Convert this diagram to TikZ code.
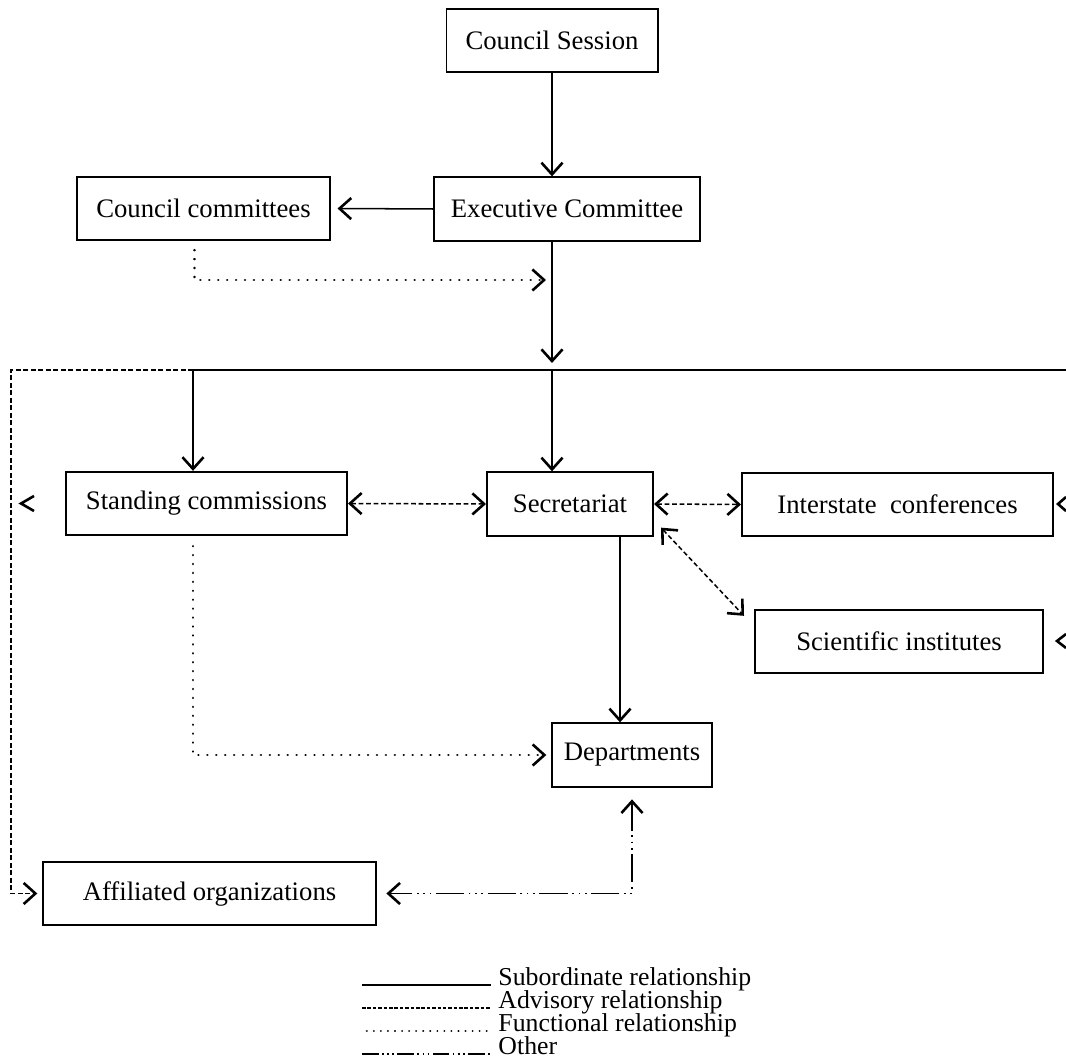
\documentclass[tikz,border=0pt]{standalone}
\usepackage{fontspec}
\setmainfont{Liberation Serif}
\usepackage{tikz}
\usetikzlibrary{arrows.meta,positioning}
\tikzstyle{box} = [rectangle, draw, line width=0.85pt, inner sep=0pt, minimum height=0.95cm, text centered]
\tikzstyle{plain} = [line width=0.65pt]
\tikzstyle{tip} = [-{Straight Barb[length=5pt,width=9pt,line width=1.1pt]}]
\tikzstyle{tips} = [{Straight Barb[length=5pt,width=9pt,line width=1.1pt]}-{Straight Barb[length=5pt,width=9pt,line width=1.1pt]}]
\tikzstyle{sub} = [plain, tip]
\tikzstyle{adv} = [plain, dash pattern=on 2pt off 1.2pt, tip]
\tikzstyle{adv2} = [plain, dash pattern=on 2pt off 1.2pt, tips]
\tikzstyle{func} = [line width=1.1pt, line cap=round, dash pattern=on 0.01pt off 3.8pt, tip]
\tikzstyle{oth} = [plain, dash pattern=on 12pt off 2pt on 0.7pt off 2pt on 0.7pt off 2pt on 0.7pt off 2pt, tips]
\tikzstyle{tipline} = [line width=1.1pt]
\tikzstyle{legtext} = [anchor=base west, inner sep=0pt, font=\fontsize{11}{12}\selectfont]

\begin{document}
\begin{tikzpicture}[x=0.015cm, y=-0.015cm, font=\fontsize{11.4}{13}\selectfont]
\useasboundingbox (0,0) rectangle (1066,1061);

% boxes
\node (session) [box, minimum width=3.165cm] at (552,40.5) {Council Session};
\node (exec) [box, minimum width=3.99cm] at (567,209) {Executive Committee};
\node (ccomm) [box, minimum width=3.795cm] at (203.5,208.5) {Council committees};
\node (stand) [box, minimum width=4.215cm] at (206.5,503.5) {Standing commissions};
\node (secr) [box, minimum width=2.49cm] at (570,504) {Secretariat};
\node (inter) [box, minimum width=4.665cm] at (897.5,504.5) {Interstate\ \ conferences};
\node (sci) [box, minimum width=4.32cm] at (899,641.5) {Scientific institutes};
\node (dept) [box, minimum width=2.4cm] at (632,755) {Departments};
\node (affil) [box, minimum width=4.995cm] at (209.5,893.5) {Affiliated organizations};

% bus
\coordinate (busL) at (193,370);
\coordinate (busM) at (552,370);
\coordinate (busR) at (1066,370);
\coordinate (ccend) at (546,280);
\coordinate (advcorner) at (11,370);
\coordinate (sdx) at (620,0);

\draw[sub] (session.south -| busM) -- (exec.north -| busM);
\draw[sub] (exec.west) -- ([xshift=2.8pt]ccomm.east);
\draw[func] ([shift={(-9,9)}]ccomm.south) |- (ccend);
\draw[sub] (exec.south -| busM) -- ([yshift=3pt]busM);
\draw[plain] (busL) -- (busR);
\draw[sub] (busL) -- (stand.north -| busL);
\draw[sub] (busM) -- (secr.north -| busM);
\draw[adv] (busL) -- (advcorner) |- ([xshift=-2pt]affil.west);

\draw[adv2] (stand.east) -- (secr.west);
\draw[adv2] (secr.east) -- (inter.west);
\draw[adv2] ([shift={(7,-9)}]secr.south east) -- ([shift={(-10,7)}]sci.north west);
\draw[sub] (secr.south -| sdx) -- (dept.north -| sdx);
\draw[func] ([shift={(0,10)}]stand.south -| busL) |- ([xshift=-2pt]dept.west);
\draw[oth] ([yshift=-5pt]dept.south) |- ([xshift=4pt]affil.east);

% loose arrow heads
\draw[tipline] (34,496) -- (21,503.5) -- (34,511);
\draw[tipline] (1066,497) -- (1058,504) -- (1066,511);
\draw[tipline] (1066,634) -- (1057,641) -- (1066,648);

% legend
\node (lsub) [legtext] at (498,985) {Subordinate relationship};
\node (ladv) [legtext] at (498,1008) {Advisory relationship};
\node (lfun) [legtext] at (498,1031) {Functional relationship};
\node (loth) [legtext] at (498,1054) {Other};
\draw[plain] ([xshift=-58pt]lsub.base west) -- ([xshift=-3pt]lsub.base west);
\draw[plain, dash pattern=on 1.5pt off 0.8pt] ([xshift=-58pt]ladv.base west) -- ([xshift=-3pt]ladv.base west);
\draw[line width=0.9pt, line cap=round, dash pattern=on 0.01pt off 3pt] ([xshift=-56pt]lfun.base west) -- ([xshift=-3pt]lfun.base west);
\draw[plain, dash pattern=on 7pt off 1.5pt on 0.7pt off 1.5pt on 0.7pt off 1.5pt on 0.7pt off 1.5pt] ([xshift=-58pt]loth.base west) -- ([xshift=-3pt]loth.base west);
\end{tikzpicture}
\end{document}
